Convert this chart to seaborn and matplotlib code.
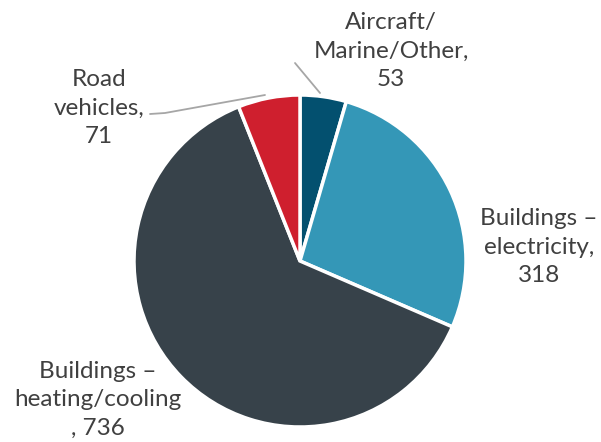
import matplotlib
matplotlib.use("Agg")
import matplotlib.pyplot as plt
import seaborn as sns

# Data
categories = ["Aircraft/\nMarine/Other,\n53", "Buildings \u2013\nelectricity,\n318",
              "Buildings \u2013\nheating/cooling\n, 736", "Road\nvehicles,\n71"]
values = [53, 318, 736, 71]
colors = ["#03506f", "#3497b7", "#37424a", "#cf1f2e"]

sns.set_theme(style="white")
plt.rcParams['font.family'] = ['Lato', 'DejaVu Sans']

fig = plt.figure(figsize=(6.01, 4.42), dpi=100)
W, H = 601, 442
cx, cy, r = 300, 261, 166
ax = fig.add_axes([(cx - r) / W, (H - cy - r) / H, 2 * r / W, 2 * r / H])

ax.pie(values, colors=colors, startangle=90, counterclock=False,
       wedgeprops=dict(edgecolor="white", linewidth=2.5))
ax.set_xlim(-1, 1)
ax.set_ylim(-1, 1)
ax.set_aspect("equal")
ax.axis("off")


def px(x, y):
    return ((x - cx) / r, (cy - y) / r)


label_pos = [(391, 51), (539, 247), (98, 400), (99, 108)]
for lab, (x, y) in zip(categories, label_pos):
    ax.text(*px(x, y), lab, ha="center", va="center", fontsize=17.5,
            color="#404040", linespacing=1.45, clip_on=False)

# leader lines
ax.plot(*zip(px(295, 63), px(320, 93)), color="#a6a6a6", lw=1.3, clip_on=False)
ax.plot(*zip(px(150, 114), px(165, 113), px(265, 95)), color="#a6a6a6", lw=1.3,
        clip_on=False)

fig.savefig("out.png", dpi=100)
